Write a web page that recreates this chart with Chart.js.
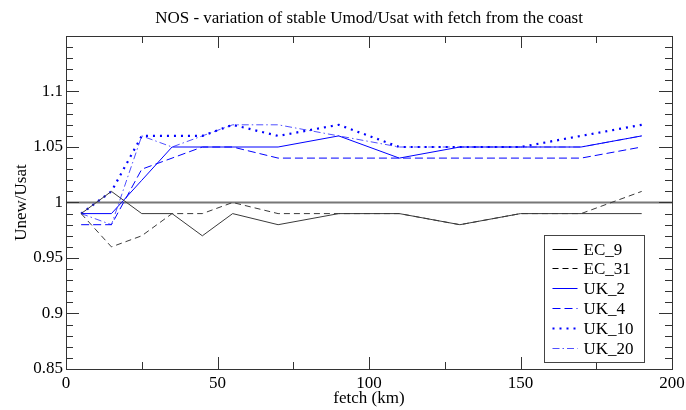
<!DOCTYPE html>
<html><head><meta charset="utf-8">
<script src="https://cdn.jsdelivr.net/npm/chart.js@4.4.0/dist/chart.umd.min.js"></script>
<style>html,body{margin:0;padding:0;background:#fff}</style>
</head><body>
<canvas id="c" width="686" height="410"></canvas>
<script>
// ---- data ----
const fetchKm = [5, 15, 25, 35, 45, 55, 70, 90, 110, 130, 150, 170, 190];
const EC_9  = [0.99, 1.01, 0.99, 0.99, 0.97, 0.99, 0.98, 0.99, 0.99, 0.98, 0.99, 0.99, 0.99];
const EC_31 = [0.99, 0.96, 0.97, 0.99, 0.99, 1.00, 0.99, 0.99, 0.99, 0.98, 0.99, 0.99, 1.01];
const UK_2  = [0.99, 0.99, 1.02, 1.05, 1.05, 1.05, 1.05, 1.06, 1.04, 1.05, 1.05, 1.05, 1.06];
const UK_4  = [0.98, 0.98, 1.03, 1.04, 1.05, 1.05, 1.04, 1.04, 1.04, 1.04, 1.04, 1.04, 1.05];
const UK_10 = [0.99, 1.01, 1.06, 1.06, 1.06, 1.07, 1.06, 1.07, 1.05, 1.05, 1.05, 1.06, 1.07];
const UK_20 = [0.99, 0.98, 1.06, 1.05, 1.06, 1.07, 1.07, 1.06, 1.05, 1.05, 1.05, 1.05, 1.06];
const seriesNames = ['EC_9', 'EC_31', 'UK_2', 'UK_4', 'UK_10', 'UK_20'];
const refX = [0, 200];
const refY = [1, 1];
const xTickValues = [0, 50, 100, 150, 200];
const xTickLabels = ['0', '50', '100', '150', '200'];
const yTickValues = [0.85, 0.9, 0.95, 1, 1.05, 1.1];
const yTickLabels = ['0.85', '0.9', '0.95', '1', '1.05', '1.1'];

const FONT = "'Liberation Serif', 'DejaVu Serif', serif";
const pts = (xs, ys) => xs.map((x, i) => ({x: x, y: ys[i]}));

const styles = {
  EC_9:  {borderColor: '#3a3a3a', borderWidth: 1, borderDash: []},
  EC_31: {borderColor: '#3a3a3a', borderWidth: 1, borderDash: [6, 4]},
  UK_2:  {borderColor: '#0000ff', borderWidth: 1, borderDash: []},
  UK_4:  {borderColor: '#0000ff', borderWidth: 1, borderDash: [8, 4]},
  UK_10: {borderColor: '#0000ff', borderWidth: 2.2, borderDash: [2, 5]},
  UK_20: {borderColor: '#5050ff', borderWidth: 1, borderDash: [7, 3, 1.5, 3]}
};
const seriesData = {EC_9, EC_31, UK_2, UK_4, UK_10, UK_20};

const datasets = seriesNames.map(n => Object.assign({
  label: n, data: pts(fetchKm, seriesData[n]), fill: false, pointRadius: 0, tension: 0,
  borderCapStyle: 'butt'
}, styles[n]));
datasets.push({label: 'ref', data: pts(refX, refY), borderColor: '#777', borderWidth: 1.8,
  pointRadius: 0, fill: false, isRef: true});

const frameTicks = {
  id: 'frameTicks',
  afterDatasetsDraw(chart) {
    const {ctx, chartArea: a, scales: {x, y}} = chart;
    ctx.save();
    ctx.strokeStyle = '#333';
    ctx.lineWidth = 1;
    ctx.beginPath();
    for (let v = 0; v <= 200; v += 25) {
      const px = Math.round(x.getPixelForValue(v)) + 0.5;
      const len = (v % 50 === 0) ? 12 : 7;
      ctx.moveTo(px, a.bottom); ctx.lineTo(px, a.bottom - len);
      ctx.moveTo(px, a.top); ctx.lineTo(px, a.top + len);
    }
    for (let k = 0; k <= 30; k++) {
      const v = 0.85 + k * 0.01;
      const py = Math.round(y.getPixelForValue(v)) + 0.5;
      const len = (k % 5 === 0) ? 13 : 7;
      ctx.moveTo(a.left, py); ctx.lineTo(a.left + len, py);
      ctx.moveTo(a.right, py); ctx.lineTo(a.right - len, py);
    }
    ctx.stroke();
    ctx.strokeRect(Math.round(a.left) + 0.5, Math.round(a.top) + 0.5,
      Math.round(a.right - a.left), Math.round(a.bottom - a.top));
    ctx.restore();
  },
  afterDraw(chart) {
    const {ctx, chartArea: a} = chart;
    const names = chart.data.datasets.filter(d => !d.isRef);
    const bx = Math.round(a.right - 128) + 0.5, by = Math.round(a.bottom - 134) + 0.5;
    const bw = 100, bh = 127;
    ctx.save();
    ctx.fillStyle = '#fff';
    ctx.fillRect(bx, by, bw, bh);
    ctx.strokeStyle = '#444';
    ctx.lineWidth = 1;
    ctx.strokeRect(bx, by, bw, bh);
    ctx.font = '17px ' + FONT;
    ctx.textBaseline = 'middle';
    ctx.fillStyle = '#000';
    names.forEach((d, i) => {
      const ry = Math.round(by + 13 + i * 19.8) + 0.5;
      ctx.beginPath();
      ctx.strokeStyle = d.label.startsWith('EC') ? '#000' : d.borderColor;
      ctx.lineWidth = d.borderWidth;
      ctx.setLineDash(d.borderDash);
      ctx.moveTo(bx + 8, ry); ctx.lineTo(bx + 33, ry);
      ctx.stroke();
      ctx.setLineDash([]);
      ctx.fillText(d.label, bx + 39, ry + 1);
    });
    ctx.restore();
  }
};

const findLabel = (vals, labs, v) => {
  for (let i = 0; i < vals.length; i++) if (Math.abs(vals[i] - v) < 1e-6) return labs[i];
  return '';
};

new Chart(document.getElementById('c'), {
  type: 'line',
  data: {datasets},
  options: {
    responsive: false,
    animation: false,
    layout: {padding: {left: 0, right: 14, top: 0, bottom: 0}},
    plugins: {
      legend: {display: false},
      tooltip: {enabled: false},
      title: {
        display: true,
        fullSize: false,
        text: 'NOS - variation of stable Umod/Usat with fetch from the coast',
        color: '#000',
        font: {family: FONT, size: 17, weight: 'normal', lineHeight: 1.2},
        padding: {top: 8, bottom: 7.6}
      }
    },
    scales: {
      x: {
        type: 'linear', min: 0, max: 200,
        grid: {display: false, drawTicks: false},
        border: {display: false},
        afterBuildTicks: s => { s.ticks = xTickValues.map(v => ({value: v})); },
        afterFit: s => { s.height = 41; s.paddingLeft = 0; s.paddingRight = 0; },
        ticks: {
          color: '#000', padding: 4, maxRotation: 0, autoSkip: false,
          font: {family: FONT, size: 17},
          callback: v => findLabel(xTickValues, xTickLabels, v)
        },
        title: {display: true, text: 'fetch (km)', color: '#000',
          font: {family: FONT, size: 17, lineHeight: 1.2}, padding: {top: 0, bottom: 1}}
      },
      y: {
        type: 'linear', min: 0.85, max: 1.15,
        grid: {display: false, drawTicks: false},
        border: {display: false},
        afterBuildTicks: s => { s.ticks = yTickValues.map(v => ({value: v})); },
        afterFit: s => { s.width = 66; s.paddingTop = 0; s.paddingBottom = 0; },
        ticks: {
          color: '#000', padding: 3, autoSkip: false,
          font: {family: FONT, size: 17},
          callback: v => findLabel(yTickValues, yTickLabels, v)
        },
        title: {display: true, text: 'Unew/Usat', color: '#000',
          font: {family: FONT, size: 17, lineHeight: 1.2}, padding: {top: 11, bottom: 0}}
      }
    }
  },
  plugins: [frameTicks]
});
</script>
</body></html>
